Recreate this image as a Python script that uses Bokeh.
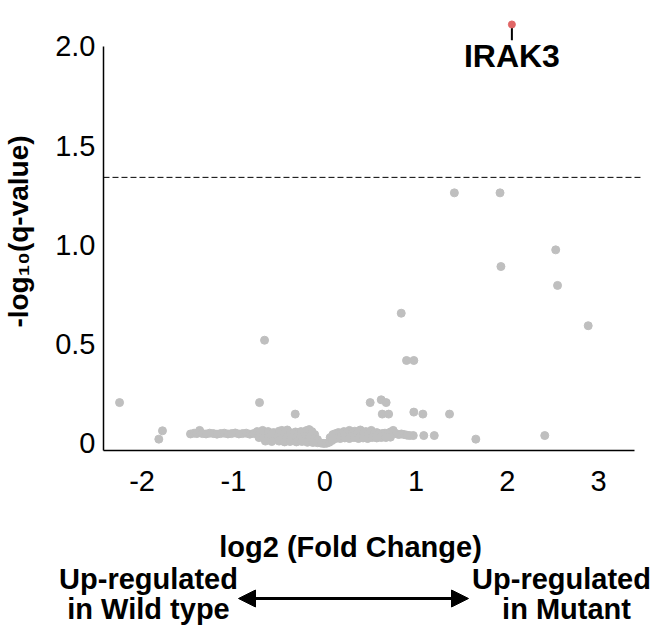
from math import pi
from bokeh.plotting import figure
from bokeh.models import Label, Arrow, NormalHead, FixedTicker
from bokeh.embed import file_html
from bokeh.resources import INLINE
from bokeh.core.properties import value

# ---------------- data ----------------
# isolated genes (log2 fold change, -log10 q)
spread_x = [1.42, 1.92, 2.53, 1.93, 2.55, 2.886, 0.838, 0.896, 0.976, 0.498,
            0.619, 0.673, 0.63, 0.70, 0.976, 1.075, 1.367, 1.085, 1.20, 1.655,
            2.41, -2.247, -1.817, -1.777, -0.659, -0.714, -0.323]
spread_y = [1.262, 1.262, 0.975, 0.891, 0.796, 0.593, 0.656, 0.418, 0.418, 0.206,
            0.220, 0.206, 0.148, 0.148, 0.158, 0.148, 0.148, 0.040, 0.040, 0.022,
            0.040, 0.206, 0.022, 0.064, 0.520, 0.206, 0.148]

# dense band of non-significant genes
band_x = [-1.47, -1.43, -1.40, -1.37, -1.34, -1.30, -1.26, -1.22, -1.18, -1.14,
          -1.10, -1.06, -1.02, -0.98, -0.94, -0.90, -0.86, -0.82, -0.78, -0.74,
          -0.71, -0.68, -0.65, -0.62, -0.59, -0.56, -0.53, -0.50, -0.47, -0.44,
          -0.41, -0.38, -0.35, -0.32, -0.29, -0.26, -0.23, -0.20, -0.17, -0.14,
          -0.11,
          -0.72, -0.67, -0.62, -0.57, -0.52, -0.47, -0.42, -0.37, -0.32, -0.27,
          -0.22, -0.17, -0.12, -0.08,
          -0.65, -0.58, -0.50, -0.44, -0.38, -0.31, -0.25, -0.19, -0.13, -0.08,
          -0.04, -0.01, 0.02, 0.05,
          0.06, 0.09, 0.12, 0.15, 0.18, 0.21, 0.24, 0.27, 0.30, 0.33,
          0.36, 0.39, 0.42, 0.45, 0.48, 0.51, 0.54, 0.57, 0.60, 0.63,
          0.66, 0.69, 0.72, 0.75, 0.78, 0.81, 0.84, 0.87, 0.90, 0.93, 0.97,
          0.08, 0.12, 0.17, 0.22, 0.27, 0.32, 0.37, 0.42, 0.47, 0.52,
          0.57, 0.62, 0.67, 0.72]
band_y = [0.048, 0.052, 0.050, 0.066, 0.050, 0.048, 0.052, 0.050, 0.047, 0.050,
          0.052, 0.048, 0.050, 0.053, 0.048, 0.050, 0.052, 0.047, 0.050, 0.060,
          0.050, 0.066, 0.052, 0.060, 0.048, 0.055, 0.050, 0.062, 0.066, 0.050,
          0.068, 0.055, 0.050, 0.058, 0.050, 0.060, 0.052, 0.065, 0.070, 0.060,
          0.045,
          0.030, 0.028, 0.030, 0.025, 0.030, 0.028, 0.025, 0.030, 0.027, 0.030,
          0.025, 0.028, 0.025, 0.020,
          0.012, 0.010, 0.012, 0.008, 0.010, 0.008, 0.010, 0.006, 0.005, 0.004,
          0.002, 0.000, 0.001, 0.006,
          0.030, 0.045, 0.050, 0.055, 0.050, 0.060, 0.050, 0.066, 0.050, 0.062,
          0.050, 0.068, 0.050, 0.060, 0.048, 0.066, 0.050, 0.055, 0.048, 0.050,
          0.052, 0.048, 0.058, 0.066, 0.050, 0.045, 0.048, 0.045, 0.042, 0.040, 0.040,
          0.015, 0.025, 0.025, 0.028, 0.025, 0.030, 0.025, 0.028, 0.025, 0.030,
          0.028, 0.030, 0.030, 0.032]

# highlighted gene
hit_gene = ["IRAK3"]
hit_x = [2.05]
hit_y = [2.11]
hit_stem_end = [2.03]
hit_label_y = [1.95]

threshold = 1.34

x_ticks = [-2, -1, 0, 1, 2, 3]
x_tick_labels = ["-2", "-1", "0", "1", "2", "3"]
y_ticks = [0, 0.5, 1, 1.5, 2]
y_tick_labels = ["0", "0.5", "1.0", "1.5", "2.0"]

FONT = "Liberation Sans"

# plotting area limits (data units) where the axes sit
AX_LEFT, AX_RIGHT_LINE, AX_RIGHT = -2.423, 3.393, 3.481
AX_BOTTOM, AX_TOP_LINE = -0.035, 2.0

W, H = 654, 633

# ---------------- figure ----------------
p = figure(width=W, height=H, title=None,
           x_range=(-3.551, 3.612), y_range=(-0.9567, 2.2306),
           output_backend="svg", toolbar_location=None, min_border=0)
p.grid.visible = False
p.outline_line_color = None

p.scatter(band_x, band_y, size=8, color="#bfbfbf")
p.scatter(spread_x, spread_y, size=8, color="#bfbfbf")

# significance threshold
p.segment(x0=[AX_LEFT], y0=[threshold], x1=[AX_RIGHT], y1=[threshold],
          line_color="black", line_width=1, line_dash="6 3")

p.segment(x0=hit_x, y0=hit_y, x1=hit_x, y1=hit_stem_end, line_color="black", line_width=2)
p.scatter(hit_x, hit_y, size=7, color="#e06666")
p.text(x=hit_x, y=hit_label_y, text=hit_gene, text_font=value(FONT),
       text_font_style="bold", text_font_size="32px", text_align="center",
       text_baseline="middle", text_color="black")

# axes placed at fixed locations inside the frame
xa = p.xaxis[0]
xa.ticker = FixedTicker(ticks=x_ticks)
xa.major_label_overrides = dict(zip(x_ticks, x_tick_labels))
xa.bounds = (AX_LEFT, AX_RIGHT_LINE)
xa.fixed_location = AX_BOTTOM
ya = p.yaxis[0]
ya.ticker = FixedTicker(ticks=y_ticks)
ya.major_label_overrides = dict(zip(y_ticks, y_tick_labels))
ya.bounds = (AX_BOTTOM, AX_TOP_LINE)
ya.fixed_location = AX_LEFT
for ax in (xa, ya):
    ax.axis_line_color = "black"
    ax.axis_line_width = 1.5
    ax.major_tick_line_color = None
    ax.minor_tick_line_color = None
    ax.major_label_text_font = FONT
    ax.major_label_text_font_size = "29px"
    ax.major_label_text_color = "black"
xa.major_label_standoff = 15
ya.major_label_standoff = 2

# texts (screen px from bottom-left of canvas)
def lab(text, x, y, angle=0, size="29px"):
    p.add_layout(Label(text=text, x=x, y=y, x_units="screen", y_units="screen",
                       angle=angle, text_font=FONT, text_font_style="bold",
                       text_font_size=size, text_align="center",
                       text_baseline="middle", text_color="black"))

lab("-log\u2081\u2080(q-value)", 18, H - 231, angle=pi / 2, size="28px")
lab("log2 (Fold Change)", 350, H - 546)
lab("Up-regulated", 148, H - 578)
lab("in Wild type", 148, H - 608)
lab("Up-regulated", 561, H - 578)
lab("in Mutant", 566, H - 608)

p.add_layout(Arrow(start=NormalHead(size=17, fill_color="black", line_color="black"),
                   end=NormalHead(size=17, fill_color="black", line_color="black"),
                   x_start=238, y_start=H - 598, x_end=468, y_end=H - 598,
                   start_units="screen", end_units="screen",
                   line_width=3, line_color="black"))

open("out.html", "w").write(file_html(p, INLINE))
